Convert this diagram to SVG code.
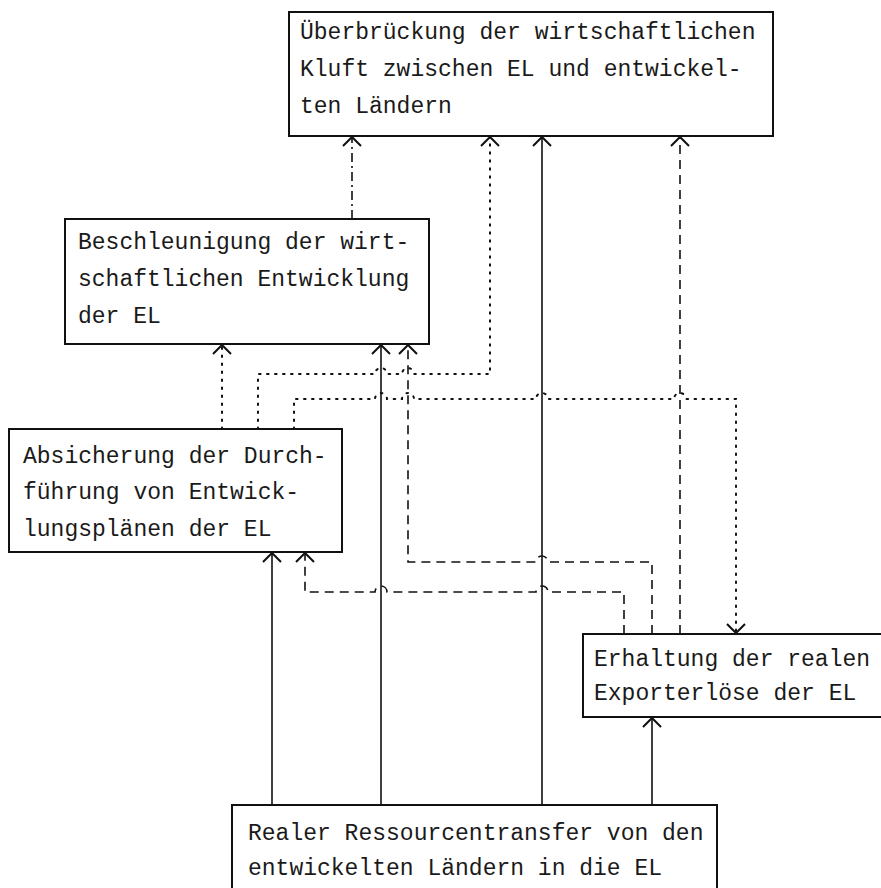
<svg xmlns="http://www.w3.org/2000/svg" width="881" height="888" viewBox="0 0 881 888">
<defs>
<style>
.box{fill:#fff;stroke:#111;stroke-width:2}
.t{font-family:"Liberation Mono","DejaVu Sans Mono",monospace;font-size:23px;fill:#1a1a1a}
.c{fill:none;stroke:#111;stroke-width:1.6}
.solid{}
.dash{stroke-dasharray:9,6}
.dot{stroke-dasharray:1.6,6.4;stroke-linecap:round;stroke-width:2}
.dd{stroke-dasharray:9,4,2,4}
</style>
<marker id="ah" viewBox="-12 -12 24 24" markerWidth="24" markerHeight="24" refX="0" refY="0" orient="auto" markerUnits="userSpaceOnUse">
<path d="M -9 -9 L 0 0 L -9 9" fill="none" stroke="#111" stroke-width="2" stroke-dasharray="none"/>
</marker>
</defs>
<rect width="881" height="888" fill="#fff"/>

<g id="connectors">
<path class="c dd" d="M352 219 L352 137" marker-end="url(#ah)"/>
<path class="c dot" d="M222 429 L222 345" marker-end="url(#ah)"/>
<path class="c dot" d="M258 429 L258 374 L375 374 A6 6 0 0 1 387 374 L402 374 A6 6 0 0 1 414 374 L490 374 L490 137" marker-end="url(#ah)"/>
<path class="c dot" d="M294 429 L294 399 L375 399 A6 6 0 0 1 387 399 L402 399 A6 6 0 0 1 414 399 L536 399 A6 6 0 0 1 548 399 L674 399 A6 6 0 0 1 686 399 L736 399 L736 633" marker-end="url(#ah)"/>
<path class="c solid" d="M272 805 L272 553" marker-end="url(#ah)"/>
<path class="c solid" d="M381 805 L381 345" marker-end="url(#ah)"/>
<path class="c solid" d="M542 805 L542 137" marker-end="url(#ah)"/>
<path class="c solid" d="M652 805 L652 718" marker-end="url(#ah)"/>
<path class="c dash" d="M680 634 L680 137" marker-end="url(#ah)"/>
<path class="c dash" d="M652 634 L652 562 L548 562 A6 6 0 0 0 536 562 L408 562 L408 345" marker-end="url(#ah)"/>
<path class="c dash" d="M624 634 L624 592 L548 592 A6 6 0 0 0 536 592 L387 592 A6 6 0 0 0 375 592 L305 592 L305 553" marker-end="url(#ah)"/>
</g>

<g id="node-ueberbrueckung">
<rect class="box" x="289" y="12" width="484" height="124"/>
<text class="t" x="300" y="39">Überbrückung der wirtschaftlichen</text>
<text class="t" x="300" y="76">Kluft zwischen EL und entwickel-</text>
<text class="t" x="300" y="113">ten Ländern</text>
</g>

<g id="node-beschleunigung">
<rect class="box" x="65" y="219" width="364" height="125"/>
<text class="t" x="78" y="249">Beschleunigung der wirt-</text>
<text class="t" x="78" y="286">schaftlichen Entwicklung</text>
<text class="t" x="78" y="323">der EL</text>
</g>

<g id="node-absicherung">
<rect class="box" x="9" y="429" width="333" height="123"/>
<text class="t" x="23" y="463">Absicherung der Durch-</text>
<text class="t" x="23" y="499">führung von Entwick-</text>
<text class="t" x="23" y="536">lungsplänen der EL</text>
</g>

<g id="node-erhaltung">
<rect class="box" x="583" y="634" width="310" height="83"/>
<text class="t" x="594" y="666">Erhaltung der realen</text>
<text class="t" x="594" y="700">Exporterlöse der EL</text>
</g>

<g id="node-ressourcentransfer">
<rect class="box" x="232" y="805" width="485" height="100"/>
<text class="t" x="248" y="840">Realer Ressourcentransfer von den</text>
<text class="t" x="248" y="875">entwickelten Ländern in die EL</text>
</g>
</svg>
